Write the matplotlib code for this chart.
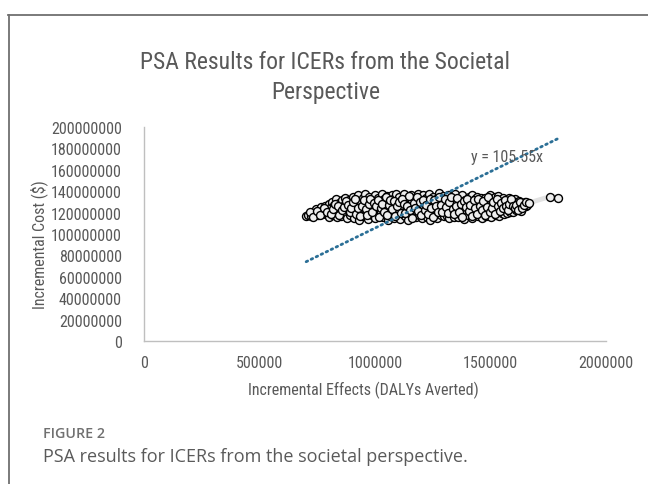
import numpy as np
import matplotlib.pyplot as plt
from matplotlib.lines import Line2D

# PSA draws: incremental effects (thousand DALYs averted) and incremental cost (million $)
effects_k = [
    702, 712, 725, 730, 738, 745, 752, 758, 765, 770, 776, 783, 788, 794, 799,
    803, 806, 811, 815, 819, 823, 828, 832, 836, 840, 845, 848, 852, 856, 860,
    864, 868, 872, 876, 880, 884, 888, 892, 896, 899,
    903, 906, 910, 913, 917, 921, 925, 928, 932, 935, 939, 942, 946, 949, 953,
    957, 960, 964, 968, 971, 975, 978, 982, 986, 989, 993, 997, 999,
    1002, 1006, 1009, 1013, 1016, 1020, 1023, 1027, 1030, 1034, 1037, 1041, 1044,
    1048, 1051, 1055, 1058, 1062, 1065, 1069, 1072, 1076, 1079, 1083, 1086, 1090,
    1093, 1097, 1099,
    1102, 1106, 1109, 1113, 1116, 1120, 1123, 1127, 1130, 1134, 1137, 1141, 1144,
    1148, 1151, 1155, 1158, 1162, 1165, 1169, 1172, 1176, 1179, 1183, 1186, 1190,
    1193, 1197, 1199,
    1203, 1206, 1210, 1213, 1217, 1220, 1224, 1227, 1231, 1234, 1238, 1241, 1245,
    1248, 1252, 1255, 1259, 1262, 1266, 1269, 1273, 1276, 1280, 1283, 1287, 1290,
    1294, 1297, 1299,
    1303, 1306, 1310, 1313, 1317, 1320, 1324, 1327, 1331, 1334, 1338, 1341, 1345,
    1348, 1352, 1355, 1359, 1362, 1366, 1369, 1373, 1376, 1380, 1383, 1387, 1390,
    1394, 1397,
    1401, 1405, 1408, 1412, 1415, 1419, 1422, 1426, 1429, 1433, 1436, 1440, 1443,
    1447, 1450, 1454, 1457, 1461, 1464, 1468, 1471, 1475, 1478, 1482, 1485, 1489,
    1492, 1496, 1499,
    1503, 1506, 1510, 1513, 1517, 1520, 1524, 1527, 1531, 1534, 1538, 1541, 1545,
    1548, 1552, 1555, 1559, 1562, 1566, 1569, 1573, 1576, 1580, 1583, 1587, 1590,
    1594, 1597,
    1602, 1606, 1610, 1614, 1618, 1622, 1627, 1632, 1637, 1642, 1648, 1655, 1660,
    1758, 1792,
    718, 733, 749, 761, 779, 791, 808, 817, 826, 838, 843, 857, 866, 874, 883,
    891, 898, 905, 915, 919, 926, 937, 944, 951, 959, 966, 973, 980, 988, 995,
    1004, 1011, 1018, 1025, 1032, 1039, 1046, 1053, 1060, 1067, 1074, 1081, 1088,
    1095, 1104, 1111, 1118, 1125, 1132, 1139, 1146, 1153, 1160, 1167, 1174, 1181,
    1188, 1195, 1201, 1208, 1215, 1222, 1229, 1236, 1243, 1250, 1257, 1264, 1271,
    1278, 1285, 1292, 1301, 1308, 1315, 1322, 1329, 1336, 1343, 1350, 1357, 1364,
    1371, 1378, 1385, 1392, 1399, 1406, 1413, 1420, 1427, 1434, 1441, 1448, 1455,
    1462, 1469, 1476, 1483, 1490, 1497, 1505, 1512, 1519, 1526, 1533, 1540, 1547,
    1554, 1561, 1568, 1575, 1582, 1589, 1596, 1604, 1612, 1620, 1628, 1635, 1645,
    1652, 1665,
]
cost_m = [
    116.5, 118, 117, 121, 119.5, 123, 117.5, 120.5, 125, 118.5, 122, 126.5, 119, 123.5, 128,
    116, 121.5, 125, 130, 118, 127.5, 122.5, 133, 115.5, 120, 129, 124.5, 117, 131.5, 126,
    121, 134, 119, 128, 114.5, 123, 132, 117.5, 126.5, 130.5,
    120.5, 135, 115, 127, 123.5, 131, 118, 136, 113.5, 125.5, 129.5, 121.5, 133.5, 116.5, 127.5,
    137, 119.5, 124, 130, 114, 134.5, 122, 128.5, 117.5, 132, 125, 120, 136.5,
    114.5, 129, 123, 134, 118.5, 127, 131.5, 121, 137.5, 116, 125.5, 132.5, 119,
    128, 135.5, 113.5, 123.5, 130, 117, 126.5, 136, 120.5, 133, 115, 128.5, 124,
    137, 118, 131,
    121.5, 135, 114, 127.5, 132, 118.5, 125, 137.5, 116.5, 130.5, 122, 134, 113.5,
    128, 119.5, 136, 124.5, 131, 117, 126, 133.5, 115.5, 129, 121, 137, 118,
    127, 132.5, 123.5,
    114.5, 136.5, 125.5, 130, 119, 134, 116, 128.5, 122.5, 137.5, 113.5, 131.5, 120,
    126.5, 135, 117.5, 129.5, 123, 133, 115, 127, 138, 121.5, 131, 118, 125,
    135.5, 116.5, 129,
    122, 133.5, 117, 127.5, 136.5, 114.5, 124.5, 131, 119.5, 128, 134.5, 116, 125.5,
    137, 121, 130, 115.5, 127, 133, 118.5, 124, 136, 120.5, 129.5, 114, 132,
    122.5, 127.5,
    117.5, 134.5, 125, 130.5, 119.5, 136, 115, 127.5, 122, 132.5, 118, 128.5, 135,
    116.5, 124, 130, 120, 133.5, 114.5, 126, 129, 121.5, 134, 117, 127, 131.5,
    119, 124.5, 136,
    116, 128, 132, 121, 125.5, 134.5, 118, 129.5, 123, 135.5, 117, 127, 131,
    120, 125, 133.5, 118.5, 128.5, 122.5, 132, 119.5, 126.5, 134, 121, 129, 124,
    131, 120.5,
    126, 133, 122.5, 129.5, 124.5, 131, 127, 121.5, 128, 125, 129.5, 126.5, 127.5,
    135, 134,
    120.5, 116, 121.5, 118, 124, 121, 118.5, 123, 128, 126, 117.5, 122, 125.5, 131, 127.5,
    120.5, 124, 129.5, 132.5, 119, 124.5, 117, 126.5, 131.5, 123, 118, 128.5, 133, 120.5, 129,
    126, 132, 115.5, 124, 128.5, 121, 134.5, 118, 127.5, 132, 123, 130.5, 116.5,
    126, 129.5, 120, 133, 128.5, 119.5, 126.5, 135.5, 122.5, 115, 129, 124, 135,
    121.5, 129.5, 118, 132, 122.5, 127, 118.5, 133, 124, 116, 131.5, 126, 120.5,
    134.5, 127.5, 121, 132.5, 125, 120, 129.5, 135, 123, 118.5, 126.5, 133.5, 121,
    128.5, 116, 131, 125.5, 133, 121.5, 127, 116.5, 131.5, 124.5, 119, 133, 126.5,
    122, 131, 117.5, 125.5, 134.5, 121, 124.5, 129.5, 119, 133, 126, 121.5, 129,
    124, 131.5, 126.5, 122, 128, 132.5, 126, 124, 127, 122, 130, 124.5, 127.5,
    130, 129,
]
slope = 105.55
trend_label = "y = 105.55x"

x = np.array(effects_k) * 1000
y = np.array(cost_m) * 1e6
order = np.argsort(x)

txt = "#595959"
plt.rcParams['font.family'] = ['Roboto Condensed', 'DejaVu Sans']

fig = plt.figure(figsize=(6.48, 4.85), dpi=100)
ax = fig.add_axes([0.2222, 0.2948, 0.713, 0.4413])

ax.plot(x[order], y[order], color="#e3e3e3", lw=3.5, zorder=1)
ax.scatter(x, y, s=33, facecolor="#eeeeee", edgecolor="black", linewidth=1.0, zorder=2)

tx = np.array([x.min(), x.max()])
ax.plot(tx, slope * tx, color="#2b6f96", lw=2.0, linestyle=(0, (0.6, 1.4)),
        dash_capstyle="round", zorder=3)
ax.text(1570000, 172000000, trend_label, color=txt, fontsize=11.5, ha="center", va="center")

ax.set_xlim(0, 2000000)
ax.set_ylim(0, 200000000)
ax.set_xticks(np.arange(0, 2000001, 500000))
ax.set_yticks(np.arange(0, 200000001, 20000000))
ax.xaxis.set_major_formatter(plt.FuncFormatter(lambda v, p: "%d" % v))
ax.yaxis.set_major_formatter(plt.FuncFormatter(lambda v, p: "%d" % v))
ax.tick_params(length=0, labelsize=11.5, labelcolor=txt)
ax.tick_params(axis="y", pad=16)
ax.tick_params(axis="x", pad=10)
for s in ["top", "right"]:
    ax.spines[s].set_visible(False)
for s in ["left", "bottom"]:
    ax.spines[s].set_color("#bfbfbf")
    ax.spines[s].set_linewidth(1.0)

fig.text(0.502, 0.840, "PSA Results for ICERs from the Societal\nPerspective",
         ha="center", va="center", fontsize=17, color=txt, linespacing=1.38)
fig.text(0.560, 0.196, "Incremental Effects (DALYs Averted)", ha="center", va="center",
         fontsize=11.5, color=txt)
fig.text(0.060, 0.495, "Incremental Cost ($)", ha="center", va="center", rotation=90,
         fontsize=11.5, color=txt)

fig.text(0.066, 0.105, "FIGURE 2", ha="left", va="center", fontsize=10.3,
         color="#707070", family="Open Sans", weight="semibold")
fig.text(0.066, 0.058, "PSA results for ICERs from the societal perspective.", ha="left",
         va="center", fontsize=13, color="#5a5a5a", family="Open Sans")

# frame around the figure panel
fig.add_artist(Line2D([8 / 648, 1], [1 - 16 / 485, 1 - 16 / 485], color="#707070", lw=1.3))
fig.add_artist(Line2D([9 / 648, 9 / 648], [0, 1 - 16 / 485], color="#707070", lw=1.3))

fig.savefig("out.png", dpi=100)
